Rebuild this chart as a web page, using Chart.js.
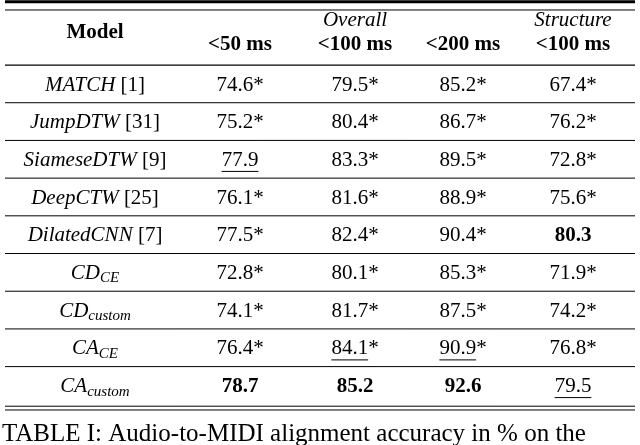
<!DOCTYPE html>
<html>
<head>
<meta charset="utf-8">
<script src="https://cdn.jsdelivr.net/npm/chart.js@4.4.0/dist/chart.umd.min.js"></script>
<style>
  body { margin: 0; background: #fff; }
  #wrap { width: 640px; height: 445px; }
</style>
</head>
<body>
<div id="wrap"><canvas id="tbl"></canvas></div>
<script>
const models = ["MATCH", "JumpDTW", "SiameseDTW", "DeepCTW", "DilatedCNN", "CD", "CD", "CA", "CA"];
const modelSubs = ["", "", "", "", "", "CE", "custom", "CE", "custom"];
const modelRefs = ["[1]", "[31]", "[9]", "[25]", "[7]", "", "", "", ""];
const headTop = ["", "Overall", "", "Structure"];
const headBottom = ["<50 ms", "<100 ms", "<200 ms", "<100 ms"];
const under50 = [74.6, 75.2, 77.9, 76.1, 77.5, 72.8, 74.1, 76.4, 78.7];
const overall100 = [79.5, 80.4, 83.3, 81.6, 82.4, 80.1, 81.7, 84.1, 85.2];
const under200 = [85.2, 86.7, 89.5, 88.9, 90.4, 85.3, 87.5, 90.9, 92.6];
const structure100 = [67.4, 76.2, 72.8, 75.6, 80.3, 71.9, 74.2, 76.8, 79.5];
// marks per cell: s = significant (*), b = best, u = second best
const marks = [
  ["s", "s", "s", "s"], ["s", "s", "s", "s"], ["u", "s", "s", "s"],
  ["s", "s", "s", "s"], ["s", "s", "s", "b"], ["s", "s", "s", "s"],
  ["s", "s", "s", "s"], ["s", "us", "us", "s"], ["b", "b", "b", "u"]
];
const caption = "TABLE I: Audio-to-MIDI alignment accuracy in % on the";

const cols = [under50, overall100, under200, structure100];
// column centres along the x scale (layout, not data)
const modelX = 95;
const colX = [240, 355, 463, 573];
const serif = '"Liberation Serif", "DejaVu Serif", serif';
const FS = 21;

const points = [];
cols.forEach((c, j) => c.forEach((v, i) => points.push({ x: colX[j], y: i })));

const tablePlugin = {
  id: "tablePlugin",
  afterDraw(chart) {
    const ctx = chart.ctx;
    const xs = chart.scales.x, ys = chart.scales.y;
    const px = v => xs.getPixelForValue(v), py = v => ys.getPixelForValue(v);
    const left = px(5), right = px(635);
    ctx.save();
    ctx.strokeStyle = "#000";
    const hline = (v, w) => {
      ctx.lineWidth = w;
      ctx.beginPath();
      ctx.moveTo(left, py(v));
      ctx.lineTo(right, py(v));
      ctx.stroke();
    };
    hline(-2.21, 3);
    hline(-1.99, 1);
    for (let i = 0; i < models.length; i++) hline(i - 0.53, i === 0 ? 1.3 : 1);
    hline(8.52, 1);
    hline(8.62, 1);

    ctx.fillStyle = "#000";
    ctx.textBaseline = "middle";
    ctx.textAlign = "center";
    ctx.font = "bold " + FS + "px " + serif;
    ctx.fillText("Model", px(modelX), py(-1.39));
    headBottom.forEach((t, j) => ctx.fillText(t, px(colX[j]), py(-1.06)));
    ctx.font = "italic " + FS + "px " + serif;
    headTop.forEach((t, j) => { if (t) ctx.fillText(t, px(colX[j]), py(-1.72)); });

    // model names
    models.forEach((m, i) => {
      const y = py(i);
      ctx.font = "italic " + FS + "px " + serif;
      const w1 = ctx.measureText(m).width;
      ctx.font = "italic 15px " + serif;
      const w2 = modelSubs[i] ? ctx.measureText(modelSubs[i]).width : 0;
      ctx.font = FS + "px " + serif;
      const ref = modelRefs[i] ? " " + modelRefs[i] : "";
      const w3 = ref ? ctx.measureText(ref).width : 0;
      let x = px(modelX) - (w1 + w2 + w3) / 2;
      ctx.textAlign = "left";
      ctx.font = "italic " + FS + "px " + serif;
      ctx.fillText(m, x, y);
      x += w1;
      if (modelSubs[i]) {
        ctx.font = "italic 15px " + serif;
        ctx.fillText(modelSubs[i], x, y + 5);
        x += w2;
      }
      if (ref) {
        ctx.font = FS + "px " + serif;
        ctx.fillText(ref, x, y);
      }
    });

    // values
    cols.forEach((c, j) => c.forEach((v, i) => {
      const mk = marks[i][j];
      const num = v.toFixed(1);
      const star = mk.includes("s") ? "*" : "";
      ctx.font = (mk.includes("b") ? "bold " : "") + FS + "px " + serif;
      const wn = ctx.measureText(num).width;
      const wt = ctx.measureText(num + star).width;
      const x0 = px(colX[j]) - wt / 2, y = py(i);
      ctx.textAlign = "left";
      ctx.fillText(num + star, x0, y);
      if (mk.includes("u")) {
        ctx.lineWidth = 1;
        ctx.beginPath();
        ctx.moveTo(x0, y + 11);
        ctx.lineTo(x0 + wn, y + 11);
        ctx.stroke();
      }
    }));

    ctx.textAlign = "left";
    ctx.font = "25px " + serif;
    ctx.fillText(caption, px(2), py(9.28));
    ctx.restore();
  }
};

new Chart(document.getElementById("tbl"), {
  type: "scatter",
  data: { datasets: [{ data: points, pointRadius: 0, pointHoverRadius: 0 }] },
  options: {
    responsive: true,
    maintainAspectRatio: false,
    animation: false,
    layout: { padding: 0 },
    plugins: { legend: { display: false }, tooltip: { enabled: false } },
    scales: {
      x: { type: "linear", display: false, min: 0, max: 640 },
      y: { type: "linear", display: false, reverse: true, min: -2.255, max: 9.549 }
    }
  },
  plugins: [tablePlugin]
});
</script>
</body>
</html>
